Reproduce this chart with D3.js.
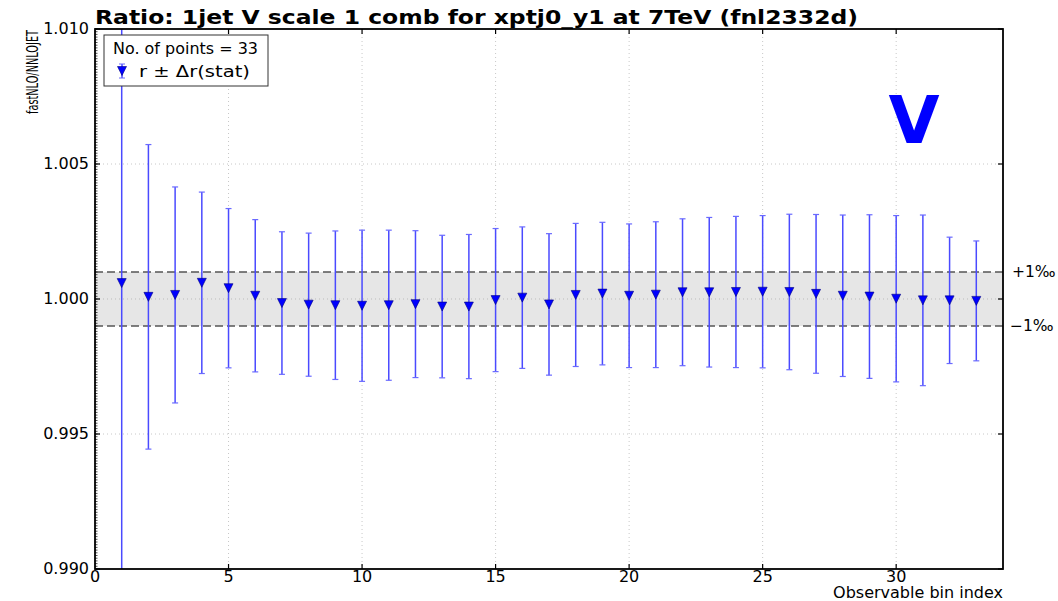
<!DOCTYPE html>
<html>
<head>
<meta charset="utf-8">
<script src="https://cdn.jsdelivr.net/npm/d3@7"></script>
<style>
  body { margin: 0; background: #fff; }
  text { font-family: "DejaVu Sans", sans-serif; }
</style>
</head>
<body>
<svg id="chart" width="1058" height="601"></svg>
<script>
// ---- data ----
var bins = d3.range(1, 34);
var ratio = [1.00059, 1.00008, 1.00015, 1.00060, 1.00040, 1.00012, 0.99985, 0.99979, 0.99977, 0.99975,
             0.99977, 0.99981, 0.99972, 0.99972, 0.99996, 1.00005, 0.99980, 1.00015, 1.00020, 1.00012,
             1.00016, 1.00025, 1.00025, 1.00026, 1.00027, 1.00026, 1.00019, 1.00012, 1.00009, 1.00001,
             0.99995, 0.99995, 0.99993];
var errStat = [0.01150, 0.00564, 0.00400, 0.00336, 0.00295, 0.00282, 0.00264, 0.00265, 0.00275, 0.00280,
               0.00278, 0.00272, 0.00264, 0.00267, 0.00265, 0.00262, 0.00262, 0.00265, 0.00264, 0.00266,
               0.00270, 0.00272, 0.00277, 0.00280, 0.00282, 0.00288, 0.00294, 0.00299, 0.00303, 0.00308,
               0.00316, 0.00234, 0.00222];
var xTicks = [0, 5, 10, 15, 20, 25, 30];
var yTicks = [0.990, 0.995, 1.000, 1.005, 1.010];
var band = [0.999, 1.001];

var svg = d3.select("#chart");
var L = 95, R = 1003, T = 29, B = 569;

var x = d3.scaleLinear().domain([0, 34]).range([L, R]);
var y = d3.scaleLinear().domain([0.990, 1.010]).range([B, T]);

var plot = svg.append("g");
var clipId = "clip";
svg.append("clipPath").attr("id", clipId)
    .append("rect").attr("x", L).attr("y", T).attr("width", R - L).attr("height", B - T);

// grid (dotted)
plot.selectAll(".gx").data(xTicks.slice(1)).enter().append("line")
    .attr("x1", d => x(d)).attr("x2", d => x(d)).attr("y1", T).attr("y2", B)
    .attr("stroke", "#c8c8c8").attr("stroke-width", 1).attr("stroke-dasharray", "1,3");
plot.selectAll(".gy").data(yTicks.slice(1, -1)).enter().append("line")
    .attr("x1", L).attr("x2", R).attr("y1", d => y(d)).attr("y2", d => y(d))
    .attr("stroke", "#c8c8c8").attr("stroke-width", 1).attr("stroke-dasharray", "1,3");

// ±1 permille band
plot.append("rect")
    .attr("x", L).attr("width", R - L)
    .attr("y", y(band[1])).attr("height", y(band[0]) - y(band[1]))
    .attr("fill", "#e3e3e3").attr("opacity", 0.9);
plot.selectAll(".bl").data(band).enter().append("line")
    .attr("x1", L).attr("x2", R).attr("y1", d => y(d)).attr("y2", d => y(d))
    .attr("stroke", "#555").attr("stroke-width", 1.3).attr("stroke-dasharray", "8,4");
// redraw grid on 1.000 over the band
plot.append("line")
    .attr("x1", L).attr("x2", R).attr("y1", y(1)).attr("y2", y(1))
    .attr("stroke", "#bdbdbd").attr("stroke-width", 1).attr("stroke-dasharray", "1,3");

// error bars
var pts = bins.map((b, i) => ({ b: b, r: ratio[i], e: errStat[i] }));
var eb = plot.append("g").attr("clip-path", "url(#" + clipId + ")");
eb.selectAll(".eb").data(pts).enter().append("line")
    .attr("x1", d => x(d.b)).attr("x2", d => x(d.b))
    .attr("y1", d => y(d.r + d.e)).attr("y2", d => y(d.r - d.e))
    .attr("stroke", "#4a4aff").attr("stroke-width", 1.5);
eb.selectAll(".capt").data(pts).enter().append("line")
    .attr("x1", d => x(d.b) - 3).attr("x2", d => x(d.b) + 3)
    .attr("y1", d => y(d.r + d.e)).attr("y2", d => y(d.r + d.e))
    .attr("stroke", "#6a6aff").attr("stroke-width", 1.2);
eb.selectAll(".capb").data(pts).enter().append("line")
    .attr("x1", d => x(d.b) - 3).attr("x2", d => x(d.b) + 3)
    .attr("y1", d => y(d.r - d.e)).attr("y2", d => y(d.r - d.e))
    .attr("stroke", "#6a6aff").attr("stroke-width", 1.2);

function triDown(cx, cy, s) {
    return "M" + (cx - s) + "," + (cy - s) + "L" + (cx + s) + "," + (cy - s) + "L" + cx + "," + (cy + s) + "Z";
}
eb.selectAll(".mk").data(pts).enter().append("path")
    .attr("d", d => triDown(x(d.b), y(d.r), 4.5))
    .attr("fill", "#0000ff").attr("stroke", "#000080").attr("stroke-width", 0.6);

// frame
svg.append("rect").attr("x", L).attr("y", T).attr("width", R - L).attr("height", B - T)
    .attr("fill", "none").attr("stroke", "#000").attr("stroke-width", 1.8);

// ticks
var tk = svg.append("g").attr("stroke", "#000");
xTicks.slice(1).forEach(function (t) {
    tk.append("line").attr("x1", x(t)).attr("x2", x(t)).attr("y1", B).attr("y2", B - 5).attr("stroke-width", 1.2);
    tk.append("line").attr("x1", x(t)).attr("x2", x(t)).attr("y1", T).attr("y2", T + 5).attr("stroke-width", 1.2);
});
yTicks.forEach(function (t) {
    tk.append("line").attr("x1", L).attr("x2", L + 5).attr("y1", y(t)).attr("y2", y(t)).attr("stroke-width", 1.2);
    tk.append("line").attr("x1", R).attr("x2", R - 5).attr("y1", y(t)).attr("y2", y(t)).attr("stroke-width", 1.2);
});
// dense minor ticks on the left axis
d3.range(0, 201).forEach(function (k) {
    var v = 0.990 + k * 0.0001;
    tk.append("line").attr("x1", L).attr("x2", L + 2.5).attr("y1", y(v)).attr("y2", y(v)).attr("stroke-width", 0.7);
});

// tick labels
svg.selectAll(".xl").data(xTicks).enter().append("text")
    .attr("x", d => x(d)).attr("y", 582).attr("text-anchor", "middle")
    .attr("font-size", 16).text(d => d);
svg.selectAll(".yl").data(yTicks).enter().append("text")
    .attr("x", 89).attr("y", d => y(d) + 5).attr("text-anchor", "end")
    .attr("font-size", 16).text(d => d3.format(".3f")(d));

// axis labels
svg.append("text").attr("x", R).attr("y", 598).attr("text-anchor", "end")
    .attr("font-size", 16).text("Observable bin index");
svg.append("text")
    .attr("transform", "translate(38," + (T + 1) + ") rotate(-90)")
    .attr("text-anchor", "end").attr("font-size", 16)
    .attr("textLength", 84).attr("lengthAdjust", "spacingAndGlyphs")
    .text("fastNLO/NNLOJET");

// title
svg.append("text").attr("x", L).attr("y", 24).attr("font-size", 19).attr("font-weight", "bold")
    .attr("textLength", 763).attr("lengthAdjust", "spacingAndGlyphs")
    .text("Ratio: 1jet V scale 1 comb for xptj0_y1 at 7TeV (fnl2332d)");

// band labels
svg.append("text").attr("x", 1012).attr("y", y(band[1]) + 5).attr("font-size", 15.5).text("+1\u2030");
svg.append("text").attr("x", 1010).attr("y", y(band[0]) + 5).attr("font-size", 15.5).text("\u22121\u2030");

// big V
svg.append("text").attr("x", 914).attr("y", 143).attr("text-anchor", "middle")
    .attr("font-size", 66).attr("font-weight", "bold").attr("fill", "#0000ff").text("V");

// legend
var lg = svg.append("g");
lg.append("rect").attr("x", 104).attr("y", 35).attr("width", 164).attr("height", 51)
    .attr("fill", "#fff").attr("stroke", "#333").attr("stroke-width", 1);
lg.append("text").attr("x", 113).attr("y", 54).attr("font-size", 15)
    .attr("textLength", 145).attr("lengthAdjust", "spacingAndGlyphs").text("No. of points = 33");
lg.append("line").attr("x1", 122).attr("x2", 122).attr("y1", 64).attr("y2", 78)
    .attr("stroke", "#4a4aff").attr("stroke-width", 1.5);
lg.append("line").attr("x1", 119).attr("x2", 125).attr("y1", 64).attr("y2", 64).attr("stroke", "#6a6aff");
lg.append("line").attr("x1", 119).attr("x2", 125).attr("y1", 78).attr("y2", 78).attr("stroke", "#6a6aff");
lg.append("path").attr("d", triDown(122, 71, 4.5)).attr("fill", "#0000ff").attr("stroke", "#000080").attr("stroke-width", 0.6);
lg.append("text").attr("x", 139).attr("y", 77).attr("font-size", 16.5)
    .attr("textLength", 111).attr("lengthAdjust", "spacingAndGlyphs").text("r \u00b1 \u0394r(stat)");
</script>
</body>
</html>
